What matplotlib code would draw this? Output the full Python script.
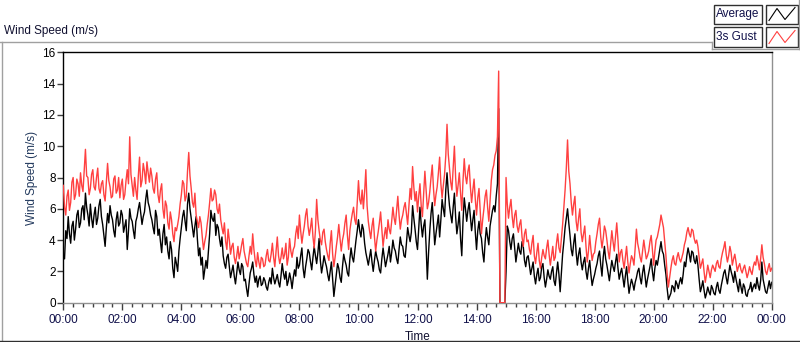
import numpy as np
import matplotlib
matplotlib.use("Agg")
import matplotlib.pyplot as plt
from matplotlib.lines import Line2D
from matplotlib.patches import Rectangle
from matplotlib.ticker import MultipleLocator, FuncFormatter

plt.rcParams['font.family'] = ['Liberation Sans', 'DejaVu Sans']

# 2.5-minute samples, one row per hour
average_rows = [
    [3.0, 2.8, 4.6, 4.1, 5.5, 4.4, 3.8, 4.9, 5.2, 4.0, 4.7, 5.6, 5.9, 4.8, 5.1, 6.0, 6.2, 5.3, 7.0, 6.1, 5.6, 4.9, 6.3, 5.4],
    [4.8, 5.6, 6.1, 5.0, 5.4, 6.2, 6.6, 5.5, 5.0, 4.3, 3.6, 4.8, 5.7, 5.1, 6.2, 5.6, 5.3, 4.6, 4.2, 5.3, 5.8, 4.9, 5.1, 5.9],
    [5.6, 4.5, 4.9, 5.3, 3.4, 4.6, 6.0, 5.4, 5.2, 4.6, 4.1, 5.2, 5.5, 6.0, 6.4, 5.7, 5.0, 5.5, 5.8, 6.6, 7.2, 6.4, 6.1, 5.6],
    [5.3, 4.8, 4.4, 5.9, 5.5, 4.3, 4.7, 3.9, 3.2, 4.4, 5.0, 3.7, 4.2, 3.3, 2.8, 3.9, 3.4, 2.2, 1.6, 2.9, 2.5, 2.0, 3.3, 4.1],
    [4.8, 5.5, 5.9, 5.2, 4.6, 6.3, 7.0, 6.0, 5.4, 4.8, 4.2, 4.9, 5.5, 4.1, 3.0, 3.5, 2.4, 2.9, 1.5, 2.1, 2.7, 2.2, 3.3, 4.4],
    [5.9, 5.4, 5.2, 5.7, 4.3, 5.0, 4.8, 4.1, 3.6, 4.2, 3.0, 2.5, 2.2, 2.9, 3.1, 2.3, 1.6, 2.0, 2.4, 1.7, 1.2, 1.9, 2.6, 2.1],
    [1.8, 2.5, 2.3, 1.4, 1.5, 0.9, 0.4, 1.2, 1.9, 2.2, 2.6, 1.8, 1.3, 1.7, 1.0, 1.5, 1.7, 1.1, 1.2, 1.6, 1.4, 1.0, 0.8, 1.3],
    [1.6, 1.2, 2.2, 1.6, 1.2, 1.5, 1.8, 1.3, 1.0, 1.7, 2.5, 1.9, 1.5, 2.0, 1.1, 1.4, 1.9, 1.5, 0.9, 1.6, 2.1, 1.7, 2.9, 2.2],
    [2.4, 3.0, 3.5, 2.2, 1.6, 2.3, 2.8, 3.4, 3.2, 2.6, 2.1, 2.9, 3.6, 3.0, 2.5, 3.2, 4.1, 2.7, 1.9, 2.4, 3.0, 2.6, 2.3, 1.8],
    [1.4, 2.0, 2.6, 1.5, 0.4, 1.1, 1.8, 2.5, 2.2, 1.6, 1.3, 2.3, 3.1, 2.7, 2.4, 1.9, 1.7, 2.8, 3.5, 2.9, 2.6, 3.3, 4.0, 4.6],
    [5.3, 4.6, 4.2, 5.0, 4.7, 3.8, 3.2, 2.8, 2.4, 2.9, 3.4, 2.6, 2.0, 2.7, 3.3, 2.9, 2.6, 2.1, 1.9, 2.8, 3.5, 2.9, 2.3, 2.7],
    [3.1, 3.6, 2.6, 3.2, 4.0, 3.5, 3.3, 2.8, 2.5, 3.4, 4.2, 3.7, 3.6, 3.0, 2.9, 3.8, 4.8, 4.3, 3.9, 4.5, 6.2, 5.4, 4.7, 3.9],
    [3.4, 4.7, 6.1, 5.0, 4.2, 4.9, 5.3, 3.6, 1.5, 3.2, 4.6, 5.7, 6.4, 5.1, 3.7, 4.4, 5.0, 5.6, 4.2, 5.3, 6.6, 6.0, 5.5, 7.2],
    [8.3, 7.1, 6.2, 5.6, 5.1, 6.1, 7.0, 5.5, 4.4, 5.0, 5.8, 4.1, 3.0, 5.2, 6.7, 6.0, 5.2, 5.9, 6.4, 5.5, 4.6, 5.3, 5.9, 4.5],
    [3.4, 4.6, 5.2, 4.4, 4.1, 3.2, 2.6, 3.9, 4.8, 4.2, 3.7, 4.9, 5.4, 5.9, 6.2, 5.8, 6.8, 7.6, 12.4, 0.0, 0.0, 0.0, 0.0, 0.0],
    [2.0, 4.9, 4.6, 3.9, 3.4, 4.1, 4.4, 3.5, 2.6, 3.2, 3.8, 3.3, 3.1, 3.9, 3.6, 2.7, 2.3, 2.9, 3.0, 2.4, 1.8, 2.2, 2.6, 1.7],
    [1.2, 1.8, 2.2, 1.4, 1.6, 2.3, 2.5, 1.6, 1.0, 1.5, 2.1, 1.7, 1.5, 2.0, 2.3, 1.4, 1.1, 1.9, 2.6, 1.8, 0.7, 1.9, 3.1, 3.9],
    [4.8, 5.4, 6.0, 5.1, 4.3, 3.4, 3.0, 3.8, 4.4, 3.2, 2.4, 3.1, 3.5, 2.6, 2.1, 2.6, 2.9, 2.0, 1.5, 2.2, 2.7, 1.8, 1.1, 1.5],
    [1.8, 2.2, 2.5, 3.0, 3.3, 2.4, 1.7, 2.9, 3.6, 2.8, 2.4, 1.9, 1.4, 2.1, 2.7, 2.3, 2.0, 2.6, 3.1, 2.2, 1.5, 1.9, 2.2, 1.6],
    [1.0, 1.7, 2.3, 1.4, 0.6, 1.1, 1.5, 1.2, 0.8, 1.3, 1.6, 2.0, 2.2, 1.6, 1.2, 1.9, 2.4, 1.7, 1.0, 1.5, 1.9, 2.3, 2.8, 2.0],
    [1.4, 2.2, 2.7, 2.4, 2.9, 3.4, 3.9, 3.3, 3.1, 2.4, 1.8, 0.9, 0.2, 0.4, 0.6, 1.1, 1.0, 0.7, 1.4, 1.2, 0.9, 1.3, 1.6, 1.2],
    [1.8, 2.6, 2.3, 3.0, 3.5, 3.1, 2.6, 3.3, 3.2, 2.7, 2.5, 3.0, 2.4, 1.5, 0.7, 1.0, 1.4, 0.8, 0.3, 0.6, 1.0, 0.7, 0.5, 1.1],
    [0.9, 0.6, 0.5, 1.0, 1.3, 0.8, 0.6, 1.1, 1.5, 1.9, 2.1, 1.6, 1.2, 1.8, 2.4, 2.0, 1.7, 1.3, 2.0, 1.5, 1.1, 0.7, 1.5, 1.0],
    [0.6, 1.2, 1.0, 0.5, 0.4, 0.8, 0.9, 1.3, 0.7, 1.0, 1.2, 0.9, 1.6, 1.1, 0.8, 1.4, 2.6, 1.5, 1.1, 0.7, 0.6, 1.0, 1.4, 0.9],
    [1.3],
]

gust_rows = [
    [7.5, 6.1, 5.6, 6.8, 7.2, 5.9, 6.4, 7.7, 8.0, 6.6, 6.9, 7.9, 7.6, 6.8, 8.3, 7.5, 7.1, 8.4, 9.8, 8.1, 8.0, 6.9, 7.3, 8.2],
    [8.5, 7.4, 7.2, 8.0, 8.6, 7.3, 7.0, 7.6, 7.8, 6.9, 6.5, 7.7, 8.9, 7.8, 7.4, 6.7, 6.8, 7.9, 8.1, 7.0, 7.2, 8.0, 6.7, 7.5],
    [7.9, 6.6, 6.9, 7.8, 8.5, 7.6, 10.6, 8.2, 7.5, 6.8, 8.0, 7.2, 6.6, 8.1, 9.3, 7.4, 7.8, 8.9, 8.4, 7.6, 9.0, 8.3, 7.7, 8.6],
    [8.1, 7.3, 7.0, 7.9, 8.3, 6.9, 6.4, 7.2, 7.6, 6.0, 5.4, 6.5, 6.2, 5.1, 4.7, 5.8, 5.3, 4.4, 3.9, 4.8, 4.6, 5.0, 5.5, 6.3],
    [6.9, 7.8, 7.6, 6.5, 6.8, 8.4, 9.6, 8.1, 7.3, 6.4, 6.1, 7.0, 5.6, 5.2, 4.8, 5.5, 5.1, 4.2, 3.4, 3.9, 4.3, 5.0, 5.6, 6.4],
    [7.3, 6.5, 6.6, 7.2, 6.9, 6.0, 5.7, 6.3, 5.3, 4.8, 4.4, 5.1, 3.9, 3.4, 4.7, 4.0, 3.1, 3.6, 3.8, 2.9, 2.5, 3.0, 3.6, 2.8],
    [3.2, 3.7, 4.1, 3.3, 2.9, 2.5, 2.3, 3.0, 3.6, 3.1, 4.4, 3.4, 2.7, 2.3, 3.2, 2.6, 2.2, 2.9, 2.8, 2.3, 2.4, 3.0, 3.4, 2.7],
    [2.6, 3.1, 3.8, 2.9, 2.3, 3.3, 4.2, 3.0, 2.5, 2.9, 3.5, 2.8, 3.1, 3.8, 2.4, 2.9, 4.1, 3.3, 2.9, 3.4, 3.6, 4.4, 4.9, 4.1],
    [5.6, 4.6, 3.8, 4.4, 4.9, 5.6, 6.0, 4.9, 4.3, 4.8, 5.4, 4.2, 3.5, 4.6, 6.6, 5.3, 4.6, 4.0, 3.7, 4.5, 4.7, 3.9, 3.4, 3.0],
    [2.7, 3.8, 4.6, 3.1, 2.3, 2.9, 3.6, 4.2, 5.0, 4.1, 3.3, 4.0, 4.4, 5.1, 5.6, 4.3, 3.4, 4.6, 5.2, 5.7, 6.1, 5.3, 5.0, 6.4],
    [7.8, 6.6, 6.3, 7.2, 6.0, 7.1, 8.5, 6.2, 5.2, 4.6, 4.1, 4.9, 5.4, 4.2, 3.3, 4.0, 4.5, 5.1, 5.8, 4.7, 3.6, 4.3, 4.8, 4.1],
    [5.3, 4.7, 4.4, 5.2, 6.1, 5.4, 5.0, 5.9, 6.8, 5.6, 4.7, 5.3, 5.6, 6.1, 6.4, 5.7, 5.0, 6.2, 7.3, 6.6, 8.7, 7.4, 6.5, 7.1],
    [5.8, 6.8, 7.6, 6.2, 5.5, 7.0, 8.4, 7.2, 6.0, 6.4, 7.1, 8.0, 8.8, 7.3, 6.2, 6.9, 7.4, 8.3, 9.3, 7.6, 6.7, 7.5, 8.2, 9.4],
    [11.4, 9.5, 8.6, 7.7, 7.2, 8.6, 10.0, 8.0, 6.8, 7.5, 8.3, 7.0, 5.9, 7.8, 9.2, 8.1, 7.6, 8.4, 8.8, 7.4, 6.4, 7.2, 7.9, 6.6],
    [5.6, 6.7, 7.3, 5.8, 4.4, 5.3, 6.0, 6.8, 7.2, 6.1, 5.2, 6.5, 7.8, 8.5, 8.8, 9.4, 9.7, 10.6, 14.8, 0.0, 0.0, 0.0, 0.0, 0.0],
    [8.0, 6.3, 5.4, 6.1, 6.6, 5.5, 4.8, 5.6, 5.9, 4.9, 4.5, 5.0, 5.3, 4.2, 3.6, 4.4, 4.7, 3.9, 4.0, 3.4, 3.1, 3.8, 4.3, 3.0],
    [2.5, 3.2, 3.8, 2.7, 2.2, 2.9, 3.4, 3.0, 2.8, 3.5, 4.0, 3.1, 2.4, 3.0, 3.6, 2.7, 2.9, 3.8, 4.4, 3.5, 3.2, 4.1, 5.0, 6.1],
    [7.2, 8.6, 10.4, 8.4, 7.6, 6.4, 5.6, 6.3, 6.8, 5.2, 4.6, 5.4, 6.0, 4.5, 3.9, 4.4, 4.9, 3.6, 2.6, 3.3, 4.3, 3.4, 2.7, 3.1],
    [3.2, 3.9, 4.4, 5.0, 5.4, 4.2, 3.5, 4.1, 4.9, 4.6, 4.0, 3.3, 2.8, 3.7, 4.6, 3.9, 3.3, 4.2, 5.1, 4.0, 2.6, 3.2, 3.4, 2.7],
    [2.2, 2.9, 3.6, 2.6, 1.9, 2.5, 3.0, 2.8, 2.4, 3.5, 4.7, 3.8, 3.4, 2.9, 2.6, 3.3, 4.0, 3.4, 2.8, 3.0, 3.3, 3.9, 4.3, 3.4],
    [2.4, 3.3, 4.0, 4.2, 4.6, 5.0, 5.6, 5.2, 4.8, 3.9, 3.0, 1.8, 1.0, 1.6, 2.2, 2.7, 3.0, 2.5, 2.4, 2.9, 3.2, 2.8, 2.6, 2.9],
    [3.2, 3.7, 4.0, 4.5, 4.8, 4.4, 4.2, 4.7, 4.6, 4.1, 3.8, 4.0, 3.6, 2.9, 2.2, 2.5, 2.8, 2.0, 1.3, 1.8, 2.4, 2.0, 1.6, 2.1],
    [2.4, 2.2, 2.0, 2.5, 2.7, 2.3, 2.2, 2.8, 3.2, 3.5, 3.9, 3.1, 2.6, 3.0, 3.6, 3.2, 2.4, 2.8, 3.1, 2.6, 2.0, 2.3, 2.5, 2.1],
    [1.9, 2.2, 2.4, 2.0, 1.6, 1.9, 2.3, 2.0, 1.8, 2.3, 2.6, 2.4, 3.0, 2.6, 2.1, 2.8, 3.7, 2.9, 2.5, 2.0, 1.8, 2.2, 2.5, 2.0],
    [2.2],
]

for name, rows in (('average', average_rows), ('gust', gust_rows)):
    for h, r in enumerate(rows[:-1]):
        assert len(r) == 24, (name, h, len(r))

average = [v for r in average_rows for v in r]
gust = [v for r in gust_rows for v in r]
hours = np.arange(len(average)) * 2.5 / 60.0

W, H = 800, 342


def fx(x):
    return x / W


def fy(y):
    return 1 - y / H


fig = plt.figure(figsize=(8, 3.42), dpi=100)
ax = fig.add_axes([fx(63.3), fy(302.7), fx(771.7) - fx(63.3), fy(52.3) - fy(302.7)])

ax.plot(hours, average, color='black', lw=1.0, zorder=2)
ax.plot(hours, gust, color='#ff4040', lw=1.0, zorder=3)

ax.set_xlim(0, 24)
ax.set_ylim(0, 16)
ax.xaxis.set_major_locator(MultipleLocator(2))
ax.xaxis.set_minor_locator(MultipleLocator(1 / 3))
ax.xaxis.set_major_formatter(FuncFormatter(lambda v, p: '%02d:00' % (int(round(v)) % 24)))
ax.yaxis.set_major_locator(MultipleLocator(2))

ax.tick_params(axis='x', which='major', length=5, width=1, color='#404040',
               labelsize=8.5, labelcolor='#10104a', pad=3)
ax.tick_params(axis='x', which='minor', length=3, width=1, color='#404040')
ax.tick_params(axis='y', which='major', length=4, width=1, color='#404040',
               labelsize=8.5, labelcolor='black', pad=1.5)

ax.spines['left'].set_color('black')
ax.spines['top'].set_color('black')
ax.spines['right'].set_color('#909090')
ax.spines['bottom'].set_color('#909090')
for s in ax.spines.values():
    s.set_linewidth(1)

ax.set_xlabel('Time', fontsize=8.5, color='#101030', labelpad=4)
ax.set_ylabel('Wind Speed (m/s)', fontsize=8.5, color='#233a5e', labelpad=3)

# chart title
fig.text(fx(4), fy(31), 'Wind Speed (m/s)', fontsize=8.5, ha='left', va='center', color='#101030')

# outer frame
frame = '#a0a0a0'
fig.add_artist(Line2D([fx(0), fx(712)], [fy(42), fy(42)], color=frame, lw=1))
fig.add_artist(Line2D([fx(712), fx(712)], [fy(42), fy(49)], color=frame, lw=1))
fig.add_artist(Line2D([fx(712), fx(798.5)], [fy(49), fy(49)], color=frame, lw=1))
fig.add_artist(Line2D([fx(798.5), fx(798.5)], [fy(0), fy(49)], color=frame, lw=1))
fig.add_artist(Line2D([fx(1.5), fx(1.5)], [fy(42), fy(341)], color=frame, lw=1))
fig.add_artist(Line2D([fx(0), fx(800)], [fy(341), fy(341)], color='#303030', lw=1))

# legend
legend_items = ['Average', '3s Gust']
legend_colors = ['black', '#ff4040']
for i, (name, c) in enumerate(zip(legend_items, legend_colors)):
    top = 4.5 + i * 23
    fig.add_artist(Rectangle((fx(714), fy(top + 19)), fx(48), fy(top) - fy(top + 19),
                             transform=fig.transFigure, facecolor='white',
                             edgecolor='#303030', lw=1))
    fig.text(fx(716), fy(top + 9.5), name, fontsize=8.5, ha='left', va='center', color='#10104a')
    fig.add_artist(Rectangle((fx(766), fy(top + 19)), fx(32), fy(top) - fy(top + 19),
                             transform=fig.transFigure, facecolor='white',
                             edgecolor='#303030', lw=1))
    zx = [769, 777, 785, 795]
    zy = [top + 16, top + 4, top + 15, top + 3]
    fig.add_artist(Line2D([fx(v) for v in zx], [fy(v) for v in zy], color=c, lw=0.8))

fig.savefig('out.png', dpi=100)
